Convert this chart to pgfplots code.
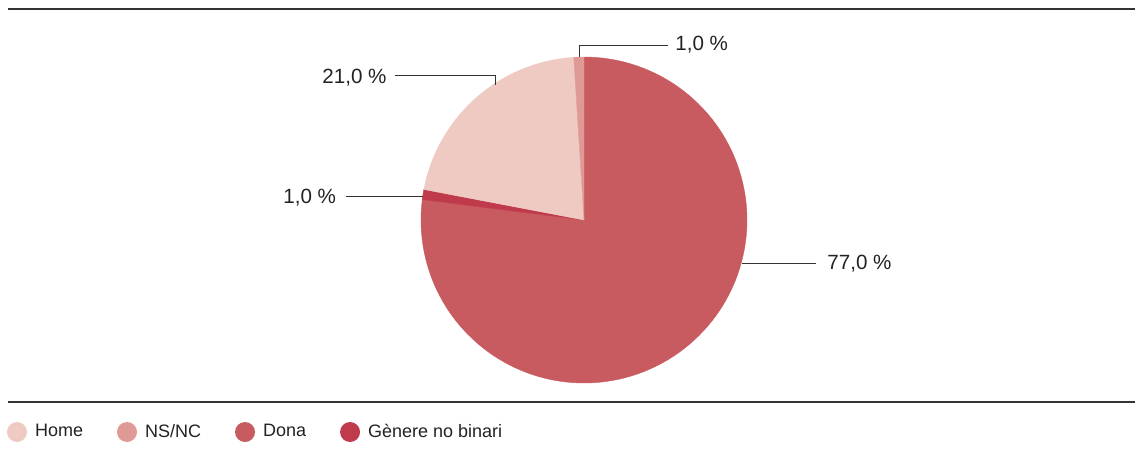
\documentclass[border=0pt]{standalone}
\usepackage{pgfplots}
\pgfplotsset{compat=1.18}
\usepackage{pgfplotstable}
\usepackage{fontspec}
\setmainfont{Liberation Sans}
\definecolor{cHome}{HTML}{EFCAC3}
\definecolor{cNS}{HTML}{E09A96}
\definecolor{cDona}{HTML}{C85B5F}
\definecolor{cGNB}{HTML}{BF3A4B}
\definecolor{cText}{HTML}{222222}
\definecolor{cRule}{HTML}{333333}

% clockwise from the top
\pgfplotstableread{
cat value
Dona 77
GNB 1
Home 21
NSNC 1
}\piedata

\begin{document}
\begin{tikzpicture}
\path[use as bounding box] (0,0) rectangle (567.5pt,228.5pt);
\pgfplotstablegetelem{0}{value}\of\piedata \let\vDona\pgfplotsretval
\pgfplotstablegetelem{1}{value}\of\piedata \let\vGNB\pgfplotsretval
\pgfplotstablegetelem{2}{value}\of\piedata \let\vHome\pgfplotsretval
\pgfplotstablegetelem{3}{value}\of\piedata \let\vNS\pgfplotsretval
\pgfmathsetmacro\aA{90}
\pgfmathsetmacro\aB{\aA-3.6*\vDona}
\pgfmathsetmacro\aC{\aB-3.6*\vGNB}
\pgfmathsetmacro\aD{\aC-3.6*\vHome}
\pgfmathsetmacro\aE{\aD-3.6*\vNS}

\draw[cRule, line width=0.75pt] (4pt,224pt) -- (567.5pt,224pt);
\draw[cRule, line width=0.75pt] (4pt,27.5pt) -- (567.5pt,27.5pt);

\begin{axis}[
  at={(292pt,118.5pt)}, anchor=center,
  x=81.5pt, y=81.5pt, xmin=-1, xmax=1, ymin=-1, ymax=1,
  hide axis, clip=false,
  legend columns=-1,
  legend image code/.code={\fill[#1] (5pt,0pt) circle[radius=5pt]; \path (0pt,0pt) (14pt,0pt);},
  legend style={at={(-1.2699,-0.1503)}, anchor=west, draw=none, fill=none,
    inner sep=0pt, outer sep=0pt,
    font=\fontsize{9}{10.5}\selectfont\color{cText},
    nodes={inner sep=0pt},
    /tikz/every even column/.append style={column sep=17pt}},
]
\addplot[fill=cDona, draw=cDona, line width=0.2pt, data cs=polar, domain=\aB:\aA, samples=120, forget plot] ({x},{1}) -- (axis cs:0,0) -- cycle;
\addplot[fill=cGNB, draw=cGNB, line width=0.2pt, data cs=polar, domain=\aC:\aB, samples=10, forget plot] ({x},{1}) -- (axis cs:0,0) -- cycle;
\addplot[fill=cHome, draw=cHome, line width=0.2pt, data cs=polar, domain=\aD:\aC, samples=50, forget plot] ({x},{1}) -- (axis cs:0,0) -- cycle;
\addplot[fill=cNS, draw=cNS, line width=0.2pt, data cs=polar, domain=\aE:\aD, samples=10, forget plot] ({x},{1}) -- (axis cs:0,0) -- cycle;

\addlegendimage{fill=cHome, draw=none}
\addlegendentry{Home}
\addlegendimage{fill=cNS, draw=none}
\addlegendentry{NS/NC}
\addlegendimage{fill=cDona, draw=none}
\addlegendentry{Dona}
\addlegendimage{fill=cGNB, draw=none}
\addlegendentry{Gènere no binari}
\end{axis}

% leader lines
\draw[cRule, line width=0.5pt] (289.5pt,200pt) -- (289.5pt,206pt) -- (334pt,206pt);
\draw[cRule, line width=0.5pt] (197.5pt,191pt) -- (247.5pt,191pt) -- (247.5pt,186pt);
\draw[cRule, line width=0.5pt] (173pt,130.5pt) -- (211.5pt,130.5pt);
\draw[cRule, line width=0.5pt] (371pt,97pt) -- (408pt,97pt);

\begin{scope}[every node/.style={inner sep=0pt, anchor=base west, text=cText, font=\fontsize{10.3}{12}\selectfont}]
\node at (337.5pt,203.5pt) {1,0 \%};
\node at (161pt,187pt) {21,0 \%};
\node at (141.5pt,127pt) {1,0 \%};
\node at (413.5pt,94pt) {77,0 \%};
\end{scope}
\end{tikzpicture}
\end{document}
